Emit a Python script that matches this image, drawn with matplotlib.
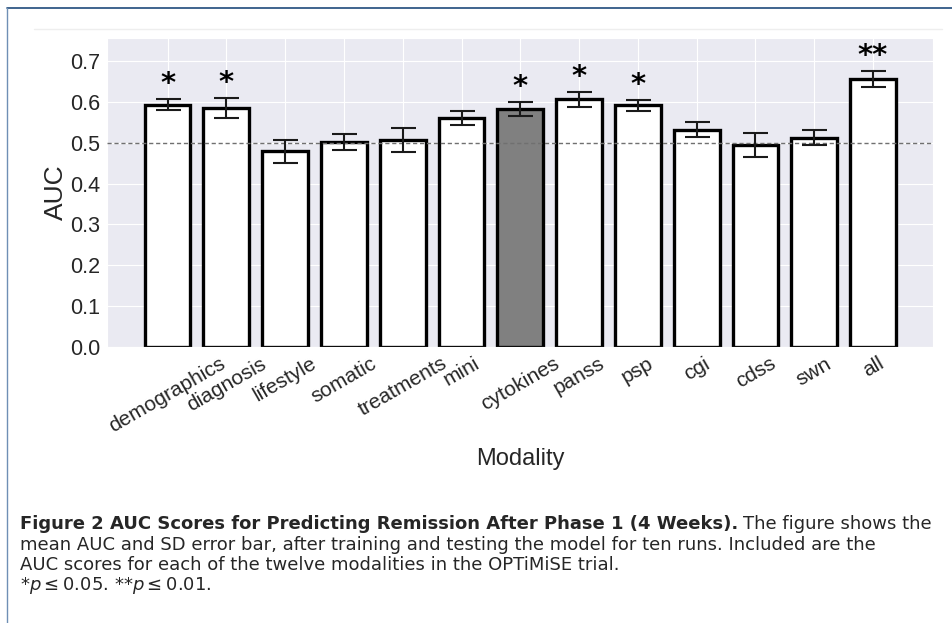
import matplotlib
matplotlib.use("Agg")
import matplotlib.pyplot as plt
import seaborn as sns
import numpy as np

modalities = ['demographics', 'diagnosis', 'lifestyle', 'somatic', 'treatments', 'mini',
              'cytokines', 'panss', 'psp', 'cgi', 'cdss', 'swn', 'all']
auc_mean = [0.593, 0.585, 0.479, 0.502, 0.507, 0.560, 0.582, 0.606, 0.591, 0.532, 0.494, 0.512, 0.656]
auc_sd = [0.014, 0.025, 0.028, 0.020, 0.030, 0.018, 0.017, 0.018, 0.013, 0.019, 0.030, 0.019, 0.019]
stars = ['*', '*', '', '', '', '', '*', '*', '*', '', '', '', '**']
highlight = 'cytokines'
chance = 0.5

sns.set_style('darkgrid')
plt.rcParams['font.family'] = ['Liberation Sans', 'DejaVu Sans']

W, H = 953, 623
fig = plt.figure(figsize=(W / 100, H / 100), dpi=100)

# page frame (blue) and faint top rule of the embedded image
fig.add_artist(plt.Line2D([7 / W, 1], [1 - 8 / H, 1 - 8 / H], color='#1f4a7c', lw=1.2))
fig.add_artist(plt.Line2D([7 / W, 7 / W], [0, 1 - 8 / H], color='#6f8fb5', lw=1.0))
fig.add_artist(plt.Line2D([34 / W, 942 / W], [1 - 29 / H, 1 - 29 / H], color='#eeeeee', lw=1.0))

ax = fig.add_axes([107 / W, 1 - 347 / H, (933 - 107) / W, (347 - 38) / H])

x = np.arange(len(modalities))
colors = ['#808080' if m == highlight else 'white' for m in modalities]
ax.bar(x, auc_mean, width=0.78, color=colors, edgecolor='black', linewidth=2.4,
       yerr=auc_sd, capsize=9, zorder=2,
       error_kw=dict(elinewidth=1.5, capthick=1.5, ecolor='#1a1a1a', zorder=4))
ax.axhline(chance, ls=(0, (3, 2)), color='#707070', lw=1.0, zorder=3)

# significance markers above the error bars
for i, s in enumerate(stars):
    if s:
        ax.text(i, auc_mean[i] + auc_sd[i] + 0.002, s, ha='center', va='bottom',
                fontsize=21, family='DejaVu Sans', fontweight='bold', color='black')

ax.set_xlim(-1.03, 13.02)
ax.set_ylim(0, 0.756)
ax.set_yticks(np.arange(0, 0.71, 0.1))
ax.set_yticklabels([f'{v:.1f}' for v in np.arange(0, 0.71, 0.1)], fontsize=15.5, color='#262626')
ax.set_xticks(x)
ax.set_xticklabels(modalities, rotation=30, fontsize=15, color='#262626')
ax.tick_params(axis='both', length=0, pad=5)
ax.set_ylabel('AUC', fontsize=19, color='#262626', labelpad=1)
ax.set_xlabel('Modality', fontsize=17, color='#262626', labelpad=9)

# caption
cap_font = ['DejaVu Sans']
fs = 13
renderer = fig.canvas.get_renderer()
t1 = fig.text(20 / W, 1 - 529 / H, 'Figure 2 AUC Scores for Predicting Remission After Phase 1 (4 Weeks).',
              fontsize=fs, fontweight='bold', family=cap_font, va='baseline')
bb = t1.get_window_extent(renderer)
fig.text(bb.x1 / W + 5 / W, 1 - 529 / H, 'The figure shows the', fontsize=fs, family=cap_font, va='baseline')
fig.text(20 / W, 1 - 550 / H,
         'mean AUC and SD error bar, after training and testing the model for ten runs. Included are the',
         fontsize=fs, family=cap_font, va='baseline')
fig.text(20 / W, 1 - 570 / H, 'AUC scores for each of the twelve modalities in the OPTiMiSE trial.',
         fontsize=fs, family=cap_font, va='baseline')
fig.text(20 / W, 1 - 590 / H, r'*$p \leq 0.05$. **$p \leq 0.01$.',
         fontsize=fs, family=cap_font, va='baseline')

fig.savefig('out.png', dpi=100)
